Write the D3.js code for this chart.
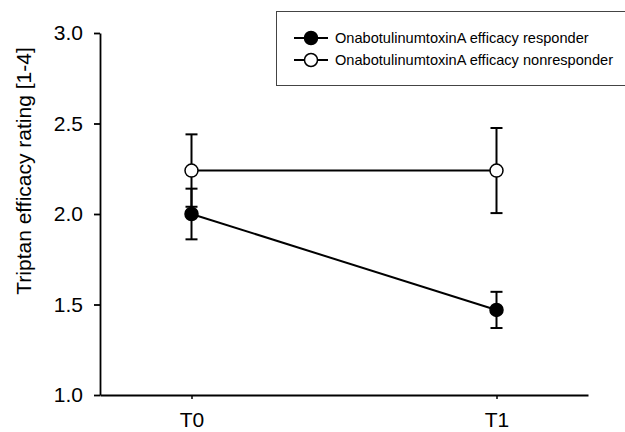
<!DOCTYPE html>
<html>
<head>
<meta charset="utf-8">
<script src="https://cdn.jsdelivr.net/npm/d3@7"></script>
<style>
  body { margin: 0; background: #fff; }
  svg { display: block; font-family: "Liberation Sans", Arial, sans-serif; }
</style>
</head>
<body>
<div id="chart"></div>
<script>
// data
const timepoints = ['T0', 'T1']
const groups = ['OnabotulinumtoxinA efficacy responder', 'OnabotulinumtoxinA efficacy nonresponder']
const responderMean = [2.0, 1.47]
const responderErr = [0.14, 0.10]
const nonresponderMean = [2.24, 2.24]
const nonresponderErr = [0.20, 0.235]
const yTicks = [1.0, 1.5, 2.0, 2.5, 3.0]

const W = 625, H = 432
const FONT = '"Liberation Sans", Arial, sans-serif'

const x = d3.scaleLinear().domain([-0.3, 1.3]).range([100, 588])
const y = d3.scaleLinear().domain([1, 3]).range([395, 33])

const svg = d3.select('#chart').append('svg')
    .attr('width', W)
    .attr('height', H)

// axes
const yAxis = d3.axisLeft(y)
    .tickValues(yTicks)
    .tickFormat(d3.format('.1f'))
    .tickSize(6)
    .tickPadding(11)
    .tickSizeOuter(0)

const gy = svg.append('g')
    .attr('transform', 'translate(100,0)')
    .call(yAxis)
    .attr('font-size', 21)
    .attr('font-family', FONT)
gy.select('.domain').attr('stroke-width', 1.8)
gy.selectAll('.tick line').attr('stroke-width', 1.8)
gy.selectAll('.tick text').attr('fill', '#000')

const xAxis = d3.axisBottom(x)
    .tickValues([0, 1])
    .tickFormat(i => timepoints[i])
    .tickSize(4)
    .tickPadding(13)
    .tickSizeOuter(0)

const gx = svg.append('g')
    .attr('transform', 'translate(0,395)')
    .call(xAxis)
    .attr('font-size', 21)
    .attr('font-family', FONT)
gx.select('.domain').attr('stroke-width', 1.8)
gx.selectAll('.tick line').attr('stroke-width', 1.5)
gx.selectAll('.tick text').attr('fill', '#000')

svg.append('text')
    .attr('transform', 'translate(31,171) rotate(-90)')
    .attr('text-anchor', 'middle')
    .attr('font-size', 21)
    .text('Triptan efficacy rating [1-4]')

// series
const series = [
    { name: groups[0], mean: responderMean, err: responderErr, fill: '#000' },
    { name: groups[1], mean: nonresponderMean, err: nonresponderErr, fill: '#fff' }
]

const line = d3.line().x((d, i) => x(i)).y(d => y(d))
const CAP = 6

// draw nonresponder first so responder sits on top like the original
for (const s of series.slice().reverse()) {
    const g = svg.append('g')
    const pts = s.mean.map((m, i) => ({ i, m, e: s.err[i] }))

    g.selectAll('line.err')
        .data(pts)
        .join('line')
            .attr('class', 'err')
            .attr('x1', d => x(d.i)).attr('x2', d => x(d.i))
            .attr('y1', d => y(d.m - d.e)).attr('y2', d => y(d.m + d.e))
            .attr('stroke', '#000').attr('stroke-width', 2)

    g.selectAll('line.capt')
        .data(pts.flatMap(d => [d.m - d.e, d.m + d.e].map(v => ({ i: d.i, v }))))
        .join('line')
            .attr('class', 'capt')
            .attr('x1', d => x(d.i) - CAP).attr('x2', d => x(d.i) + CAP)
            .attr('y1', d => y(d.v)).attr('y2', d => y(d.v))
            .attr('stroke', '#000').attr('stroke-width', 2)

    g.append('path')
        .datum(s.mean)
        .attr('d', line)
        .attr('fill', 'none')
        .attr('stroke', '#000')
        .attr('stroke-width', 2)

    g.selectAll('circle')
        .data(pts)
        .join('circle')
            .attr('cx', d => x(d.i))
            .attr('cy', d => y(d.m))
            .attr('r', 6.5)
            .attr('fill', s.fill)
            .attr('stroke', '#000')
            .attr('stroke-width', 1.5)
}

// legend
const lg = svg.append('g')
lg.append('rect')
    .attr('x', 276.5).attr('y', 11.5)
    .attr('width', 360).attr('height', 74)
    .attr('fill', '#fff')
    .attr('stroke', '#444').attr('stroke-width', 1)

series.forEach((s, k) => {
    const ry = 38 + k * 22
    lg.append('line')
        .attr('x1', 294).attr('x2', 328)
        .attr('y1', ry).attr('y2', ry)
        .attr('stroke', '#000').attr('stroke-width', 2)
    lg.append('circle')
        .attr('cx', 311).attr('cy', ry).attr('r', 6.5)
        .attr('fill', s.fill).attr('stroke', '#000').attr('stroke-width', 1.5)
    lg.append('text')
        .attr('x', 335).attr('y', ry + 5)
        .attr('font-size', 14.6)
        .text(s.name)
})
</script>
</body>
</html>
